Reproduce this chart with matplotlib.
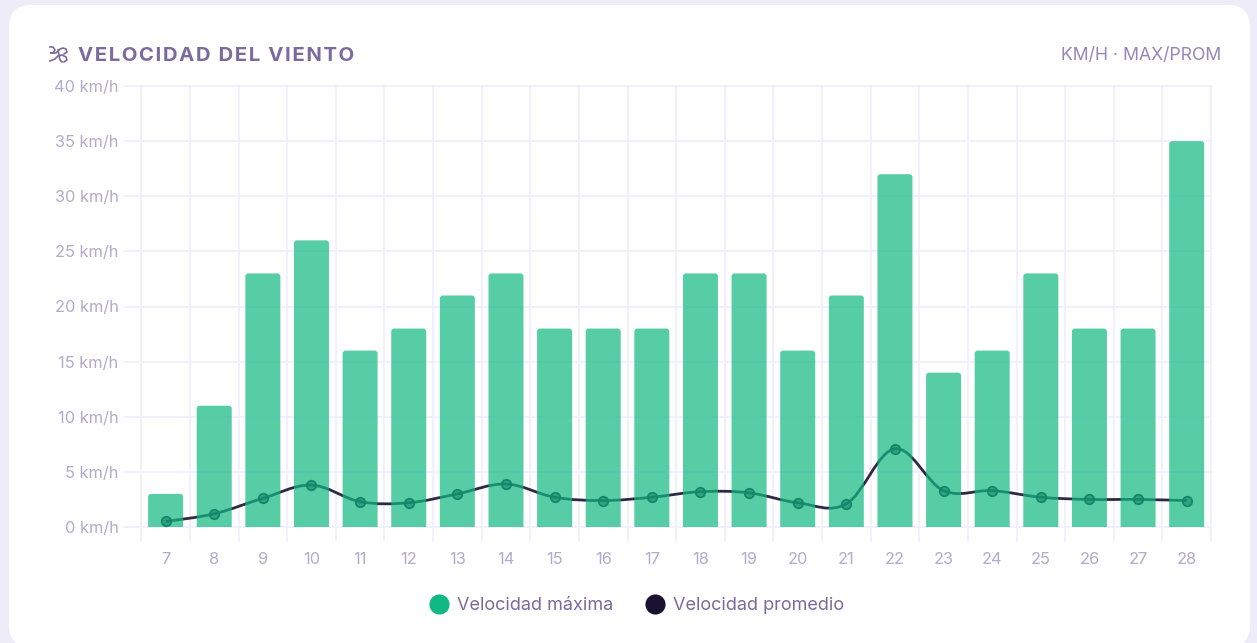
import numpy as np
import matplotlib
matplotlib.use("Agg")
import matplotlib.pyplot as plt
from matplotlib.patches import FancyBboxPatch, PathPatch
from matplotlib.path import Path
from matplotlib.lines import Line2D
from matplotlib.transforms import IdentityTransform

# Data
days = [7, 8, 9, 10, 11, 12, 13, 14, 15, 16, 17, 18, 19, 20, 21, 22, 23, 24, 25, 26, 27, 28]
vel_max = [3, 11, 23, 26, 16, 18, 21, 23, 18, 18, 18, 23, 23, 16, 21, 32, 14, 16, 23, 18, 18, 35]
vel_prom = [0.5, 1.2, 2.6, 3.8, 2.3, 2.2, 3.0, 3.9, 2.7, 2.4, 2.7, 3.2, 3.1, 2.2, 2.1, 7.1, 3.3, 3.3, 2.7, 2.5, 2.5, 2.4]
y_ticks = [0, 5, 10, 15, 20, 25, 30, 35, 40]

W, H = 1257, 643
plt.rcParams['font.family'] = ['Inter', 'DejaVu Sans']

GREEN = '#10b981'
DARK = '#1a1230'
GRID = '#f1eefd'
TICK = '#b3abcb'
TITLE = '#7a6a9e'
SUB = '#9486b8'


def px_x(x):
    return x / W


def px_y(y):
    return 1 - y / H


fig = plt.figure(figsize=(W / 100, H / 100), dpi=100, facecolor='#eeecf8')

# white card, bottom corners just about reach the image edge
card = FancyBboxPatch((9, H - 647), 1241, 642, boxstyle='round,pad=0,rounding_size=22',
                      transform=IdentityTransform(), fc='white', ec='none', zorder=-1)
fig.add_artist(card)

ax = fig.add_axes([px_x(141.3), px_y(527), (1211 - 141.3) / W, (527 - 86) / H])
ax.patch.set_alpha(0)
x = np.arange(len(days))
ax.set_xlim(-0.5, len(days) - 0.5)
ax.set_ylim(0, 40)

# grid, lines run past the axes like ticks
for b in np.arange(len(days) + 1) - 0.5:
    ax.plot([b, b], [-1.27, 40], color=GRID, lw=1.2, zorder=1, clip_on=False)
for t in y_ticks:
    ax.plot([-0.85, len(days) - 0.5], [t, t], color=GRID, lw=1.2, zorder=1, clip_on=False)

# smoothed average line, bezier through the data points
pts = np.column_stack([x, vel_prom])
tension = 0.35
verts = [tuple(pts[0])]
codes = [Path.MOVETO]
for i in range(len(pts) - 1):
    p0 = pts[max(i - 1, 0)]
    p1 = pts[i]
    p2 = pts[i + 1]
    p3 = pts[min(i + 2, len(pts) - 1)]
    c1 = p1 + (p2 - p0) * tension / 2
    c2 = p2 - (p3 - p1) * tension / 2
    verts += [tuple(c1), tuple(c2), tuple(p2)]
    codes += [Path.CURVE4, Path.CURVE4, Path.CURVE4]
ax.add_patch(PathPatch(Path(verts, codes), fc='none', ec=DARK, lw=2.0, alpha=0.9, zorder=2))
ax.plot(x, vel_prom, 'o', ms=6.8, mfc=(0.1, 0.07, 0.19, 0.6), mec=DARK, mew=1.3, zorder=2, ls='none')

# bars sit on top of the line, top corners rounded by about 3px
bar_w = 0.72
rx = 3 / 48.6
ry = 3 / 11.025
for xi, v in zip(x, vel_max):
    l, r = xi - bar_w / 2, xi + bar_w / 2
    bar_verts = [(l, 0), (l, v - ry), (l, v), (l + rx, v), (r - rx, v), (r, v), (r, v - ry), (r, 0), (l, 0)]
    bar_codes = [Path.MOVETO, Path.LINETO, Path.CURVE3, Path.CURVE3, Path.LINETO, Path.CURVE3, Path.CURVE3,
                 Path.LINETO, Path.CLOSEPOLY]
    ax.add_patch(PathPatch(Path(bar_verts, bar_codes), fc=GREEN, ec='none', alpha=0.7, zorder=3))

ax.set_xticks(x)
ax.set_xticklabels(days)
ax.set_yticks(y_ticks)
ax.set_yticklabels([f'{t} km/h' for t in y_ticks])
ax.tick_params(axis='both', length=0, labelcolor=TICK, labelsize=11.8)
ax.tick_params(axis='x', pad=18)
ax.tick_params(axis='y', pad=16.5)
for s in ax.spines.values():
    s.set_visible(False)

# header, hair spaces for the letter spacing of the title
fig.text(px_x(78), px_y(56), '\u200a'.join('VELOCIDAD DEL VIENTO'), color=TITLE, fontsize=14.6,
         fontweight='bold', va='center', ha='left')
fig.text(px_x(1221), px_y(56), 'KM/H · MAX/PROM', color=SUB, fontsize=12.7, va='center', ha='right')

# wind icon, the emoji has no glyph in the installed fonts
icon_lines = [
    ([50, 53, 55, 53, 51], [47, 47, 50, 53, 53]),
    ([51, 56, 60, 63, 66, 67, 64], [53, 53, 49, 48, 49, 52, 54]),
    ([50, 55, 58, 62, 66, 67, 64], [61, 59, 56, 55, 57, 60, 62]),
    ([58, 60, 62], [50, 60, 62]),
]
for xs, ys in icon_lines:
    fig.add_artist(Line2D([px_x(v) for v in xs], [px_y(v) for v in ys], color=TITLE, lw=1.2))

# legend
leg = [(439, 'Velocidad máxima', GREEN, 457), (655, 'Velocidad promedio', DARK, 673)]
for cx, label, col, tx in leg:
    fig.add_artist(Line2D([px_x(cx)], [px_y(604)], marker='o', ms=14.5, color=col, mec='none', ls='none'))
    fig.text(px_x(tx), px_y(606), label, color=TITLE, fontsize=13, va='center', ha='left')

fig.savefig('out.png', dpi=100, facecolor=fig.get_facecolor())
